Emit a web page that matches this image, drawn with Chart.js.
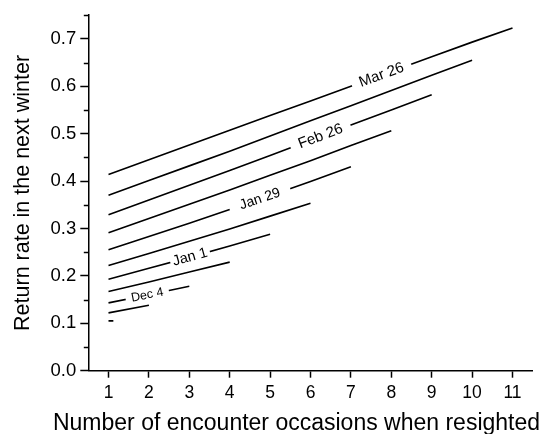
<!DOCTYPE html>
<html><head><meta charset="utf-8">
<script src="https://cdn.jsdelivr.net/npm/chart.js@4"></script>
<style>html,body{margin:0;padding:0;background:#fff}</style>
</head><body>
<canvas id="c" width="546" height="434"></canvas>
<script>
// ---- data ----
const xTicks = [1,2,3,4,5,6,7,8,9,10,11];
const yTicks = [0,0.05,0.1,0.15,0.2,0.25,0.3,0.35,0.4,0.45,0.5,0.55,0.6,0.65,0.7,0.75];
const line1  = [0.105];
const line2  = [0.122,0.138];
const line3  = [0.143,0.160,0.178];
const line4  = [0.167,0.187,0.208,0.229];
const line5  = [0.193,0.216,0.239,0.263,0.288];
const line6  = [0.222,0.247,0.273,0.299,0.326,0.353];
const line7  = [0.255,0.283,0.311,0.340,0.369,0.399,0.430];
const line8  = [0.291,0.321,0.351,0.381,0.412,0.443,0.475,0.506];
const line9  = [0.329,0.360,0.391,0.422,0.454,0.486,0.518,0.550,0.582];
const line10 = [0.370,0.401,0.432,0.463,0.495,0.527,0.559,0.591,0.623,0.655];
const line11 = [0.414,0.445,0.476,0.507,0.538,0.569,0.600,0.631,0.662,0.693,0.723];
const seriesValues = [line1,line2,line3,line4,line5,line6,line7,line8,line9,line10,line11];
const curveLabels = ['Dec 4','Jan 1','Jan 29','Feb 26','Mar 26'];
const labelLine   = [3,5,7,9,11];
const labelAt     = [1.96,3.02,4.75,6.25,7.76];
const xTitle = 'Number of encounter occasions when resighted';
const yTitle = 'Return rate in the next winter';

// ---- styles ----
const FONT = '"Liberation Sans", Arial, Helvetica, sans-serif';
const labelFontPx = [12.5,14.5,14,15,15];
const labelGapPx  = [44,41,64,64,63];
const STUB = 0.12;

Chart.defaults.font.family = FONT;
Chart.defaults.color = '#000';

const datasets = seriesValues.map(vals => ({
  data: vals.length === 1
    ? [{x: xTicks[0], y: vals[0]}, {x: xTicks[0] + STUB, y: vals[0]}]
    : vals.map((v, j) => ({x: xTicks[j], y: v})),
  borderColor: '#000', borderWidth: 1.6, pointRadius: 0, tension: 0, fill: false
}));

const isMajor = v => Math.abs(Math.round(v * 100) % 10) === 0;

const decor = {
  id: 'decor',
  afterDatasetsDraw(chart) {
    const ctx = chart.ctx, xs = chart.scales.x, ys = chart.scales.y;
    curveLabels.forEach((txt, k) => {
      const vals = seriesValues[labelLine[k] - 1];
      const x = labelAt[k];
      const j = Math.min(Math.floor(x) - 1, vals.length - 2);
      const f = x - xTicks[j];
      const y = vals[j] + (vals[j + 1] - vals[j]) * f;
      const px = xs.getPixelForValue(x), py = ys.getPixelForValue(y);
      const ang = Math.atan2(ys.getPixelForValue(vals[j + 1]) - ys.getPixelForValue(vals[j]),
                             xs.getPixelForValue(xTicks[j + 1]) - xs.getPixelForValue(xTicks[j]));
      ctx.save();
      ctx.translate(px, py);
      ctx.rotate(ang);
      ctx.fillStyle = '#fff';
      ctx.fillRect(-labelGapPx[k] / 2, -3, labelGapPx[k], 6);
      ctx.fillStyle = '#000';
      ctx.font = labelFontPx[k] + 'px ' + FONT;
      ctx.textAlign = 'center';
      ctx.textBaseline = 'middle';
      ctx.fillText(txt, 0, 0);
      ctx.restore();
    });
  },
  afterDraw(chart) {
    const ctx = chart.ctx, ys = chart.scales.y, ca = chart.chartArea;
    ctx.save();
    ctx.strokeStyle = '#000';
    ctx.lineWidth = 1.5;
    yTicks.forEach(v => {
      if (isMajor(v)) return;
      const py = Math.round(ys.getPixelForValue(v)) + 0.5;
      ctx.beginPath();
      ctx.moveTo(ca.left - 4.5, py);
      ctx.lineTo(ca.left, py);
      ctx.stroke();
    });
    ctx.fillStyle = '#000';
    ctx.font = '23px ' + FONT;
    ctx.textAlign = 'center';
    ctx.textBaseline = 'alphabetic';
    ctx.fillText(xTitle, 296.5, 430);
    ctx.restore();
  }
};

new Chart(document.getElementById('c'), {
  type: 'line',
  data: {datasets},
  plugins: [decor],
  options: {
    responsive: false, animation: false, devicePixelRatio: 1,
    layout: {padding: {top: 12.8, right: 13.3, left: 0, bottom: 0}},
    plugins: {legend: {display: false}, tooltip: {enabled: false}},
    scales: {
      x: {
        type: 'linear', min: 0.5, max: 11.5, offset: false,
        afterBuildTicks: s => { s.ticks = xTicks.map(v => ({value: v})); },
        afterFit: s => { s.height = 63.3; },
        grid: {drawOnChartArea: false, drawTicks: true, tickLength: 7, tickColor: '#000', tickWidth: 1.5},
        border: {display: true, color: '#000', width: 1.5},
        ticks: {font: {size: 17.5}, padding: 5, autoSkip: false, maxRotation: 0, callback: v => String(v)}
      },
      y: {
        type: 'linear', min: 0, max: 0.75,
        afterBuildTicks: s => { s.ticks = yTicks.map(v => ({value: v})); },
        afterFit: s => { s.width = 88.3; },
        grid: {drawOnChartArea: false, drawTicks: true, tickLength: 8, tickWidth: 1.5,
               tickColor: c => isMajor(c.tick.value) ? '#000' : 'rgba(0,0,0,0)'},
        border: {display: true, color: '#000', width: 1.5},
        ticks: {font: {size: 18.5}, padding: 4, autoSkip: false,
                callback: v => isMajor(v) ? v.toFixed(1) : ''},
        title: {display: true, text: yTitle, font: {size: 21.5}, padding: {top: 10, bottom: 0}}
      }
    }
  }
});
</script>
</body></html>
